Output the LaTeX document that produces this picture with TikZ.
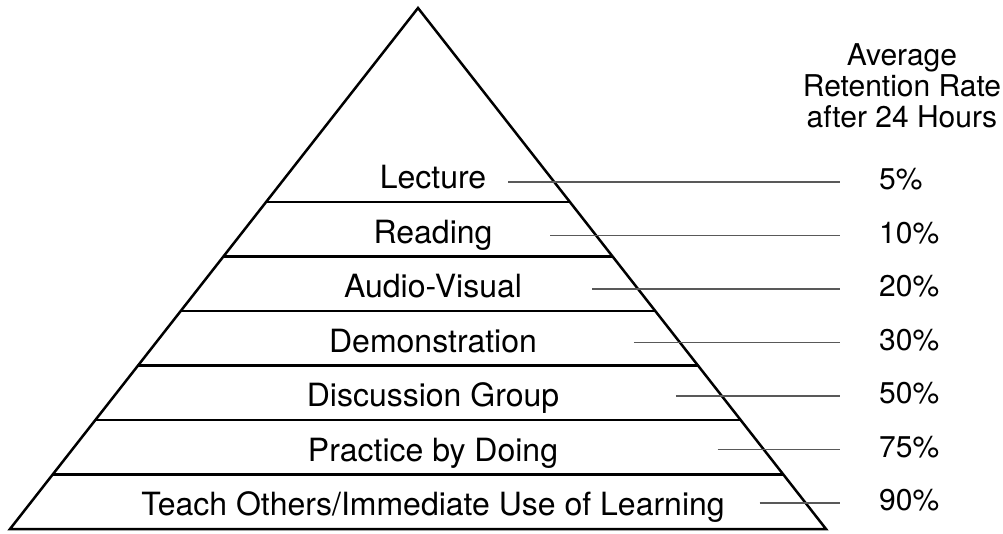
\documentclass[tikz,border=0pt]{standalone}
\usepackage{fontspec}
\setmainfont{TeX Gyre Heros}
\usetikzlibrary{calc}

\begin{document}
\begin{tikzpicture}[x=1pt,y=-1pt,
    every node/.style={font=\fontsize{30}{31}\selectfont,inner sep=0pt},
    layertext/.style={font=\fontsize{32}{34}\selectfont,anchor=base},
    layer/.style={black,line width=2.5pt},
    leader/.style={black!65,line width=1.1pt}]
    \useasboundingbox (0,0) rectangle (1003,533);

    % 定义三角形顶点
    \coordinate (T) at (418,8);
    \coordinate (L) at (10,529);
    \coordinate (R) at (826,529);

    % 画三角形
    \draw[layer,line join=miter] (L) -- (T) -- (R) -- cycle;

    % 分层线
    \foreach \i in {1,...,6} {
        \pgfmathsetmacro{\t}{(202+54.5*(\i-1)-8)/521}
        \draw[layer] ($(T)!\t!(L)$) -- ($(T)!\t!(R)$);
    }

    % 各层文字、引线与百分比
    \foreach \lbl/\pct [count=\i] in {Lecture/5, Reading/10, Audio-Visual/20,
        Demonstration/30, Discussion Group/50, Practice by Doing/75,
        {Teach Others/Immediate Use of Learning}/90} {
        \pgfmathsetmacro{\yb}{202+54.5*(\i-1)-13.5}
        \pgfmathsetmacro{\yl}{182+53.5*(\i-1)}
        \pgfmathsetmacro{\xs}{418+0.783*(\yl-8)-46}
        \node[layertext] (lbl\i) at (433,\yb) {\lbl};
        \node[anchor=base west] (pct\i) at (879,\yl+7.5) {\pct\%};
        \coordinate (ls\i) at (\xs,\yl);
        \coordinate (le\i) at (840,\yl);
        \draw[leader] (ls\i) -- (le\i);
    }

    % 右上角标题
    \node[anchor=north,align=center] (head) at (902,43.5)
        {Average\\Retention Rate\\after 24 Hours};

\end{tikzpicture}
\end{document}
